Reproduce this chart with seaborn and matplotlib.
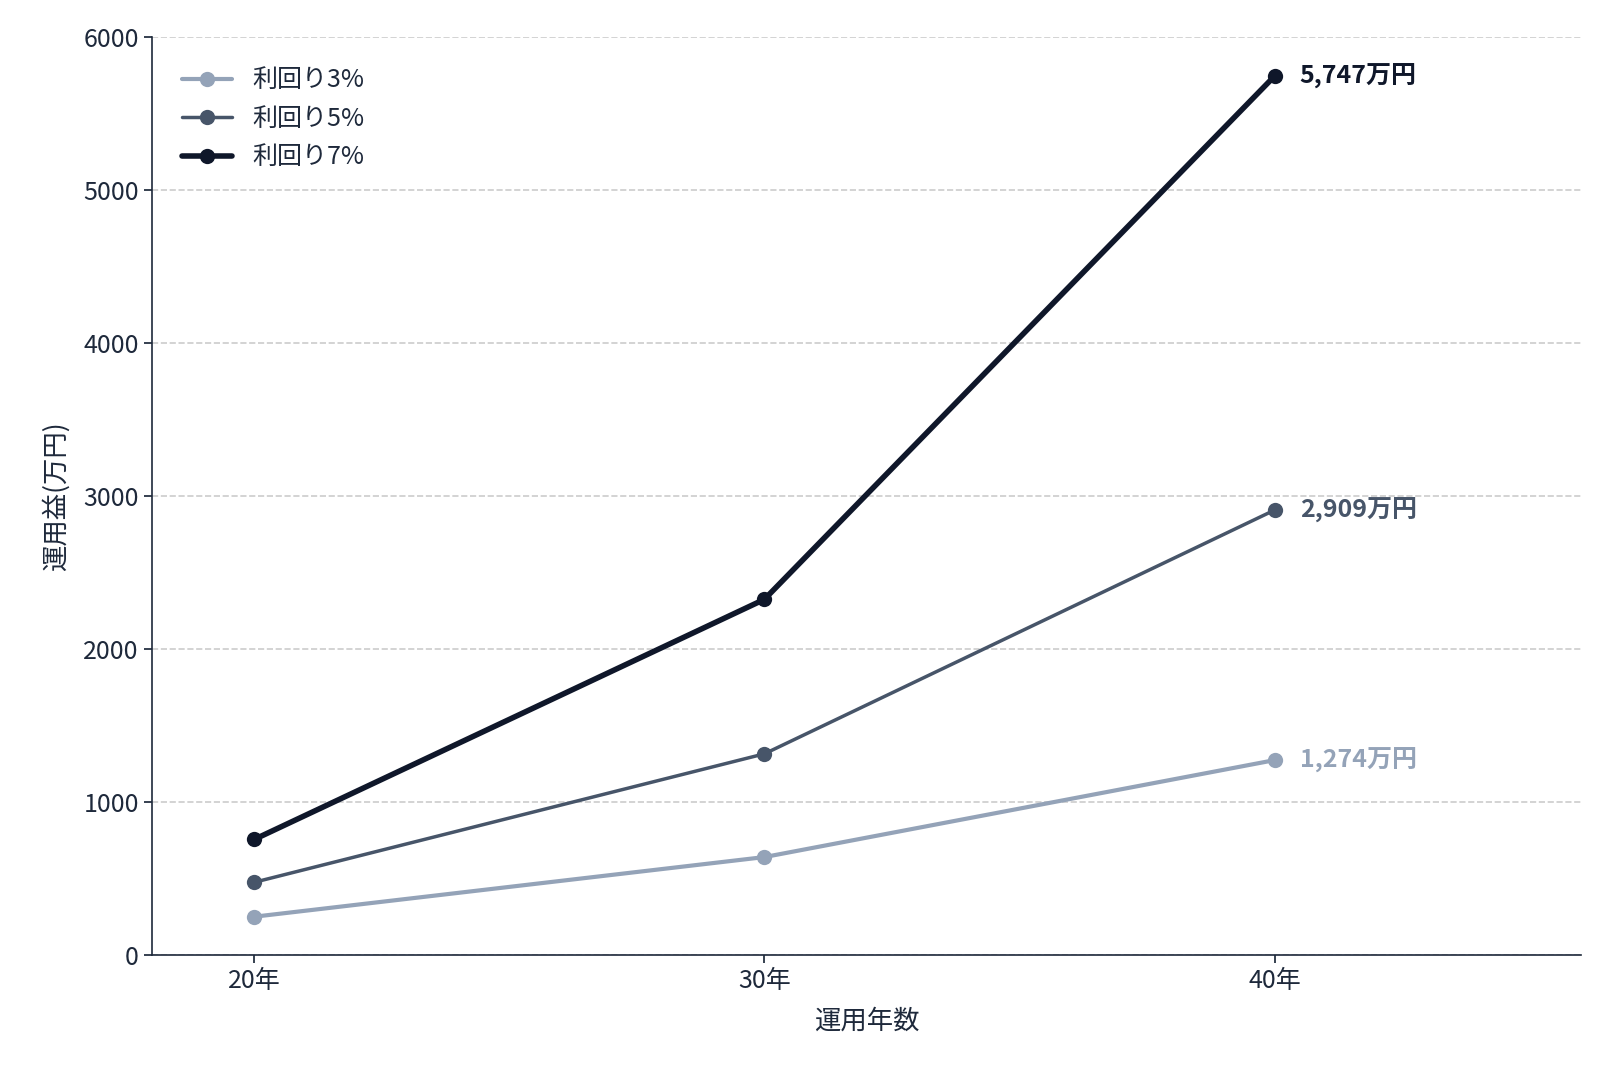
import matplotlib
matplotlib.use("Agg")
import matplotlib.pyplot as plt
import seaborn as sns
import pandas as pd

years = ["20年", "30年", "40年"]
series = ["利回り3%", "利回り5%", "利回り7%"]
r3 = [250, 640, 1274]
r5 = [475, 1315, 2909]
r7 = [755, 2325, 5747]
end_labels = ["1,274万円", "2,909万円", "5,747万円"]

sns.set_theme(style="white")
plt.rcParams['font.family'] = ['Noto Sans CJK JP', 'DejaVu Sans']

colors = ["#94a3b8", "#475569", "#0f172a"]
widths = [3, 2.5, 4]

rows = []
for name, vals in zip(series, [r3, r5, r7]):
    for i, v in enumerate(vals):
        rows.append({"x": i, "value": v, "series": name})
df = pd.DataFrame(rows)

fig = plt.figure(figsize=(16, 10.67), dpi=100)
ax = fig.add_axes([0.095, 0.105, 0.893, 0.86])

for name, c, w in zip(series, colors, widths):
    sub = df[df.series == name]
    sns.lineplot(data=sub, x="x", y="value", ax=ax, color=c, linewidth=w,
                 marker="o", markersize=11, markeredgewidth=0, label=name)

for vals, lab, c in zip([r3, r5, r7], end_labels, colors):
    ax.annotate(lab, (2, vals[-1]), xytext=(18, 0), textcoords="offset points",
                va="center", ha="left", fontsize=18, fontweight="bold", color=c)

ax.set_xlim(-0.2, 2.6)
ax.set_ylim(0, 6000)
ax.set_xticks([0, 1, 2])
ax.set_xticklabels(years)
ax.set_yticks(range(0, 6001, 1000))
ax.tick_params(axis="both", labelsize=18, colors="#1e293b", length=6, left=True, bottom=True)
ax.set_xlabel("運用年数", fontsize=19, color="#1e293b", labelpad=10)
ax.set_ylabel("運用益(万円)", fontsize=19, color="#1e293b", labelpad=10)
ax.yaxis.grid(True, linestyle="--", color="#cccccc", linewidth=1.2)
ax.xaxis.grid(False)
sns.despine(ax=ax)
for s in ["left", "bottom"]:
    ax.spines[s].set_color("#1e293b")
    ax.spines[s].set_linewidth(1.2)

leg = ax.legend(loc="upper left", frameon=False, fontsize=18, handlelength=2, borderaxespad=0.8)
for t in leg.get_texts():
    t.set_color("#1e293b")

fig.savefig("out.png", dpi=100)
